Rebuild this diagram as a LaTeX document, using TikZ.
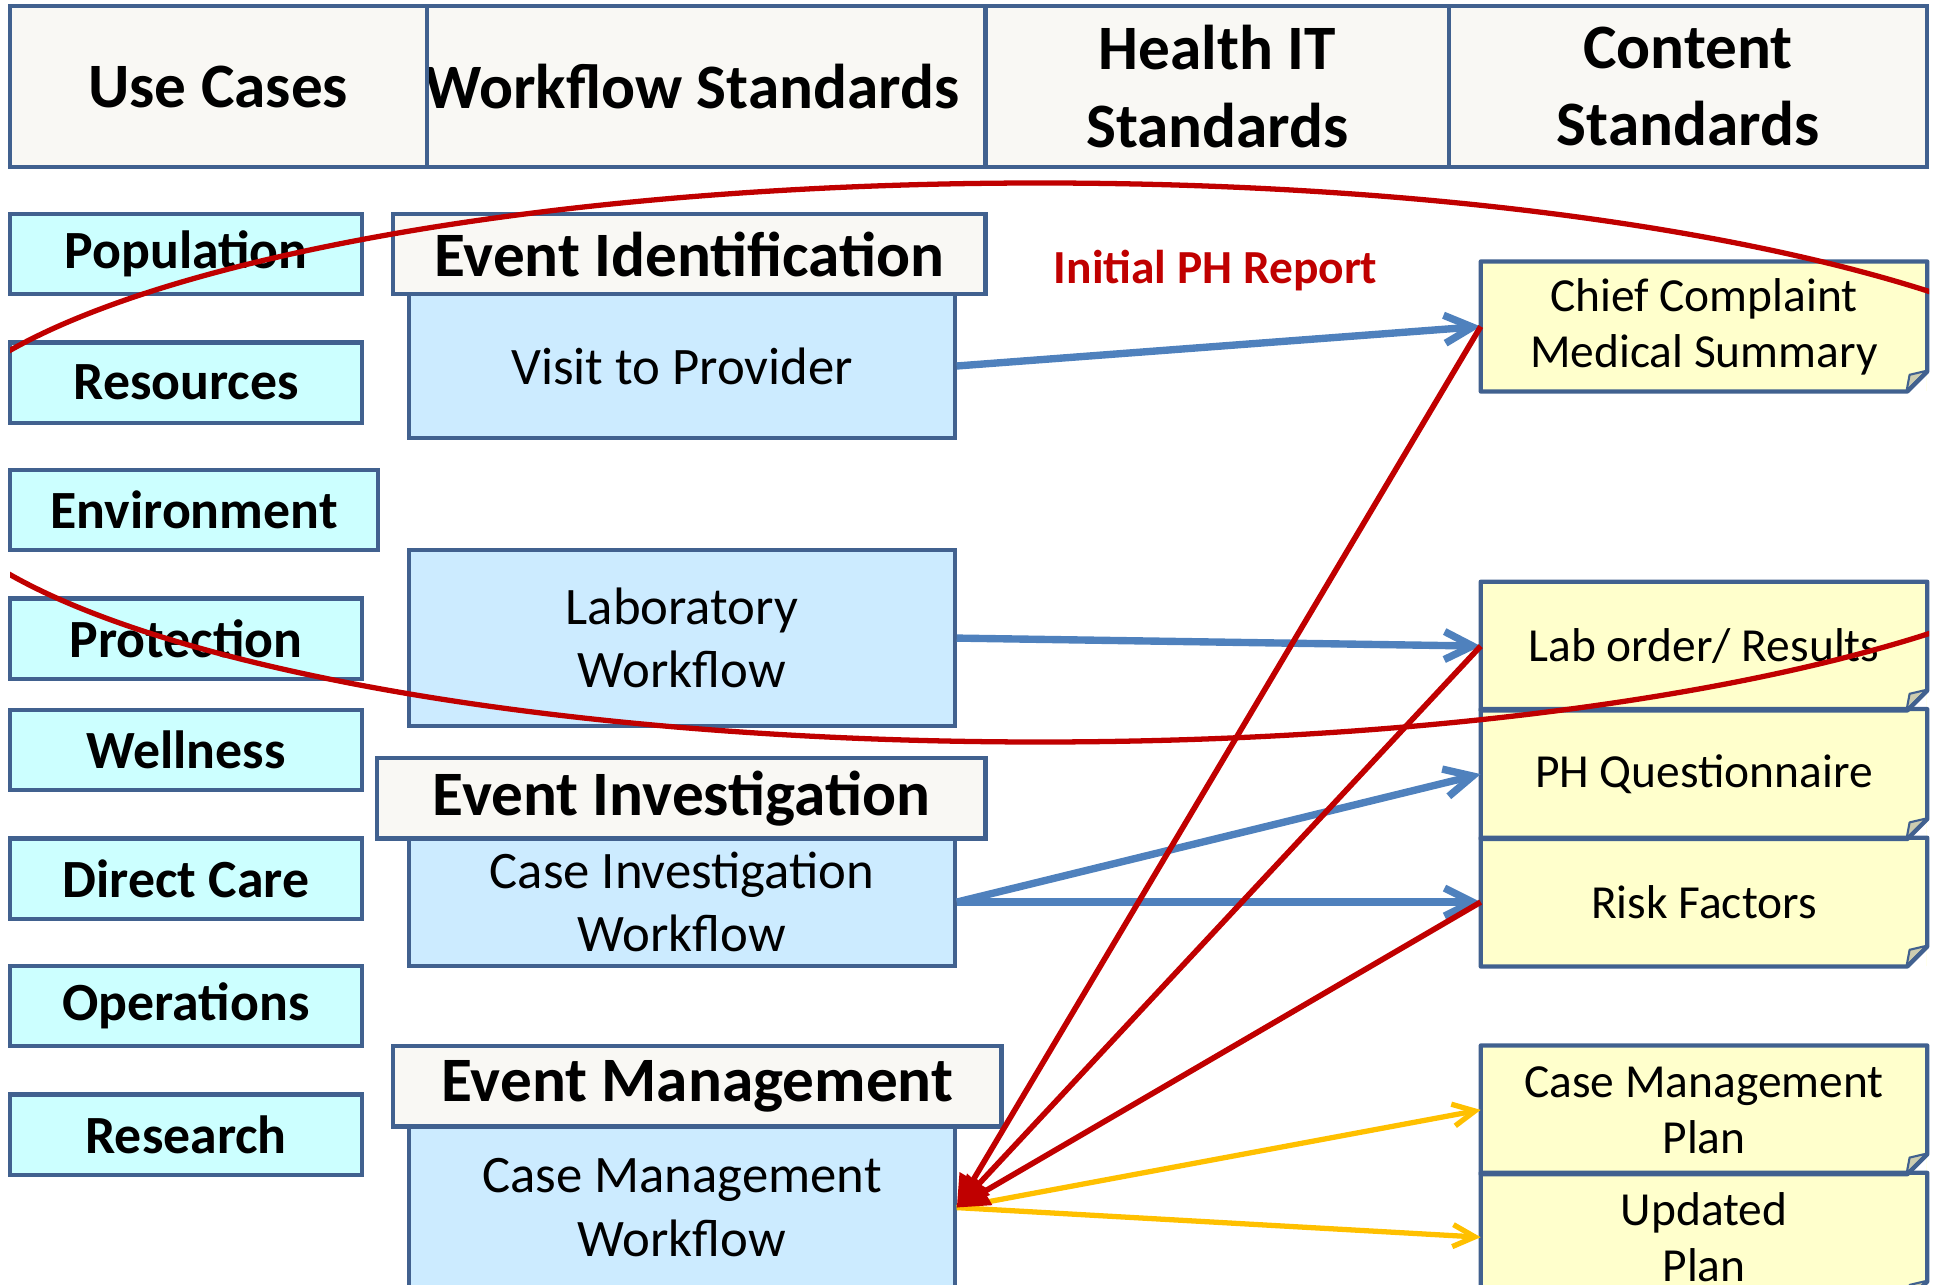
\documentclass[tikz,border=0pt]{standalone}
\usepackage{fontspec}
\setmainfont{Carlito}
\usepackage{tikz}
\usetikzlibrary{arrows.meta, positioning}
\definecolor{boxline}{HTML}{41618F}
\definecolor{headfill}{HTML}{F9F8F4}
\definecolor{casefill}{HTML}{CCFFFF}
\definecolor{flowfill}{HTML}{CCEBFF}
\definecolor{notefill}{HTML}{FFFFCC}
\definecolor{foldfill}{HTML}{CDCDB0}
\definecolor{phred}{HTML}{C00000}
\definecolor{hitblue}{HTML}{4F81BD}
\definecolor{planyellow}{HTML}{FFC000}
\tikzset{
  cell/.style={draw=boxline,line width=1.2pt,fill=headfill,inner sep=0pt,
    minimum height=1.608cm,align=center,font=\fontsize{18}{22}\selectfont\bfseries},
  usecase/.style={draw=boxline,line width=1.2pt,fill=casefill,inner sep=0pt,
    minimum height=0.804cm,font=\fontsize{15.3}{18}\selectfont\bfseries},
  stage/.style={draw=boxline,line width=1.2pt,fill=headfill,inner sep=0pt,
    minimum height=0.804cm,font=\fontsize{18}{22}\selectfont\bfseries},
  flow/.style={draw=boxline,line width=1.2pt,fill=flowfill,inner sep=0pt,
    minimum width=5.453cm,align=center,font=\fontsize{15}{18}\selectfont},
  stdnote/.style={fill=notefill,inner sep=0pt,minimum width=4.452cm,minimum height=1.274cm,
    align=center,font=\fontsize{13.5}{16}\selectfont,
    path picture={
      \fill[white] ([xshift=-2mm]path picture bounding box.south east)
        -- (path picture bounding box.south east)
        -- ([yshift=2mm]path picture bounding box.south east) -- cycle;
      \filldraw[fill=foldfill,draw=boxline,line width=0.6pt,line join=round]
        ([xshift=-2mm]path picture bounding box.south east)
        -- ([xshift=-1.7mm,yshift=1.6mm]path picture bounding box.south east)
        -- ([yshift=2mm]path picture bounding box.south east) -- cycle;
    }},
  hitarrow/.style={draw=hitblue,line width=2.1pt,-{Straight Barb[length=2.8mm,width=2.8mm]}},
  planarrow/.style={draw=planyellow,line width=1.5pt,-{Straight Barb[length=2.2mm,width=2.2mm]}},
  reportarrow/.style={draw=phred,line width=1.6pt,-{Triangle[length=3.2mm,width=3mm]}},
  phcurve/.style={draw=phred,line width=1.5pt}
}

\begin{document}
\begin{tikzpicture}[y=-1cm]
  \useasboundingbox (0,0) rectangle (19.39,12.85);

  % Column headers
  \node[cell,minimum width=5.874cm] at (6.919,0.866) (hflow){Workflow Standards};
  \node[cell,minimum width=4.167cm] at (2.183,0.866) (huse){Use Cases};
  \node[cell,minimum width=4.637cm] at (12.174,0.866) (hhit){Health IT\\Standards};
  \node[cell,minimum width=4.773cm] at (16.880,0.866) (hcontent){Content\\Standards};

  % Use cases
  \foreach \lbl/\yy/\xx/\ww [count=\i] in {Population/2.541/1.861/3.524,
    Resources/3.827/1.861/3.524, Environment/5.101/1.941/3.685,
    Protection/6.387/1.861/3.524, Wellness/7.500/1.861/3.524,
    Direct Care/8.786/1.861/3.524, Operations/10.060/1.861/3.524,
    Research/11.346/1.861/3.524}
  {
    \node[usecase,minimum width=\ww cm] at (\xx,\yy) (uc\i){\lbl};
  }

  % Event Identification
  \node[flow,minimum height=1.434cm] at (6.820,3.660) (visit){Visit to Provider};
  \node[stage,minimum width=5.923cm] at (6.894,2.541) (evid){Event Identification};
  \node[flow,minimum height=1.756cm] at (6.820,6.381) (lab){Laboratory\\Workflow};

  % Event Investigation
  \node[flow,minimum height=1.274cm] at (6.820,9.021) (caseinv){Case Investigation\\Workflow};
  \node[stage,minimum width=6.084cm] at (6.814,7.982) (evinv){Event Investigation};

  % Event Management
  \node[flow,minimum height=1.620cm] at (6.820,12.076) (casemgmt){Case Management\\Workflow};
  \node[stage,minimum width=6.084cm] at (6.974,10.864) (evmgmt){Event Management};

  % Content standards
  \node[stdnote,minimum height=1.286cm] at (17.040,3.265) (cc){Chief Complaint\\Medical Summary};
  \node[stdnote] at (17.040,6.461) (labres){Lab order/ Results};
  \node[stdnote,minimum height=1.286cm] at (17.040,7.741) (phq){PH Questionnaire};
  \node[stdnote] at (17.040,9.021) (risk){Risk Factors};
  \node[stdnote] at (17.040,11.099) (cmplan){Case Management\\Plan};
  \node[stdnote] at (17.040,12.372) (updplan){Updated\\Plan};
  \foreach \n in {cc,labres,phq,risk,cmplan,updplan}
  {
    \draw[boxline,line width=1.2pt,line join=round] (\n.north west) -- (\n.north east)
      -- ([yshift=2mm]\n.south east) -- ([xshift=-2mm]\n.south east) -- (\n.south west) -- cycle;
  }

  \node[font=\fontsize{13.5}{16}\selectfont\bfseries,text=phred] at (12.156,2.708) (iphr){Initial PH Report};

  % Workflow to content
  \draw[hitarrow] (visit.east) -- (cc.west);
  \draw[hitarrow] (lab.east) -- (labres.west);
  \draw[hitarrow] (caseinv.east) -- (phq.west);
  \draw[hitarrow] (caseinv.east) -- (risk.west);

  % Plans
  \draw[planarrow] (casemgmt.east) -- (cmplan.west);
  \draw[planarrow] (casemgmt.east) -- (updplan.west);

  % Report back
  \draw[reportarrow] (cc.west) -- (casemgmt.east);
  \draw[reportarrow] (labres.west) -- (casemgmt.east);
  \draw[reportarrow] (risk.west) -- (casemgmt.east);

  % Loop
  \begin{scope}
    \clip (0.1,0) rectangle (19.29,12.85);
    \draw[phcurve] (10.4,4.625) ellipse [x radius=11.241cm,y radius=2.795cm];
  \end{scope}
\end{tikzpicture}
\end{document}
